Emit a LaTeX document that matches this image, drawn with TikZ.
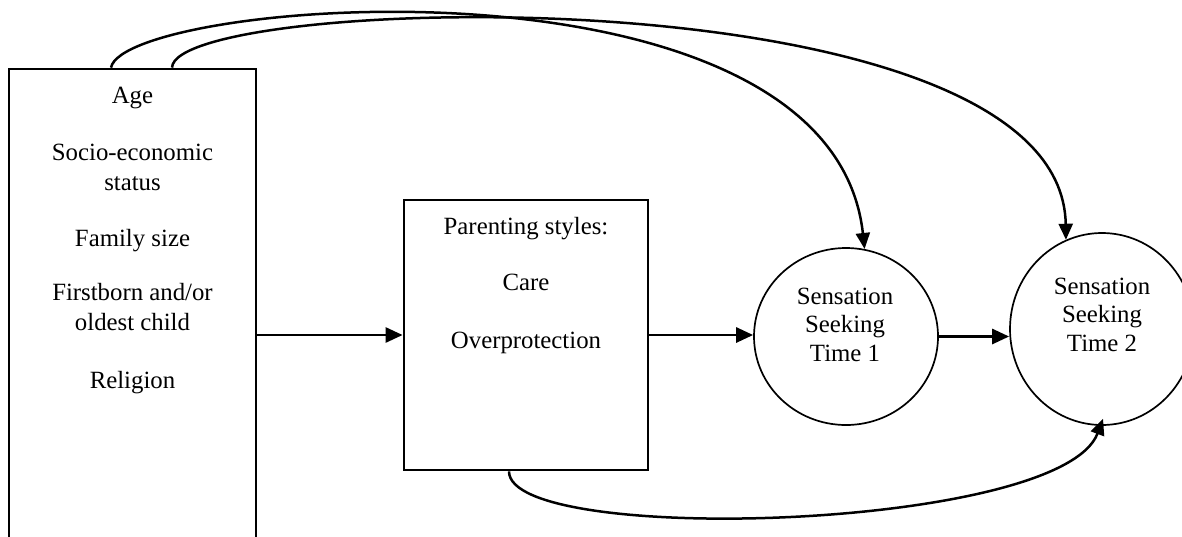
\documentclass[tikz,border=0pt]{standalone}
\usepackage{fontspec}
\setmainfont{Liberation Serif}
\usetikzlibrary{arrows.meta,shapes.geometric,calc}

\begin{document}
\begin{tikzpicture}[x=0.5pt,y=-0.5pt,
  txt/.style={font=\fontsize{12.4}{15}\selectfont, align=center, inner sep=0pt,
              text height=8.5pt, text depth=2.5pt},
  ctxt/.style={txt, font=\fontsize{12.4}{14.2}\selectfont},
  box/.style={draw, line width=1.4pt, inner sep=0pt},
  oval/.style={draw, ellipse, line width=0.85pt, inner sep=0pt},
  link/.style={line width=1.4pt, -{Triangle[length=8.5pt,width=7.5pt]}},
  curvelink/.style={line width=1.25pt, -{Triangle[length=8pt,width=7pt]}},
]
\clip (0,0) rectangle (1182,536);
\fill[white] (0,0) rectangle (1182,536);

% background variables (the box runs past the lower edge)
\node[box, minimum width=123.5pt, minimum height=275.5pt] (lbox) at (132.5,344.5) {};
% multi-line labels are positioned by their last line
\node[txt] (age) at (132.5,97) {Age};
\node[txt] (ses) at (132.5,184) {Socio-economic\\status};
\node[txt] (fam) at (132.5,240) {Family size};
\node[txt] (first) at (132.5,324) {Firstborn and/or\\oldest child};
\node[txt] (rel) at (132.5,382) {Religion};

% parenting styles
\node[box, minimum width=122pt, minimum height=135pt] (pbox) at (526,335) {};
\node[txt] (ps) at (526,228) {Parenting styles:};
\node[txt] (care) at (526,284) {Care};
\node[txt] (over) at (526,342) {Overprotection};

% sensation seeking at two time points
\node[oval, minimum width=92pt, minimum height=88.5pt] (t1) at (846,336.5) {};
\node[ctxt] (t1txt) at (845,355) {Sensation\\Seeking\\Time 1};
\node[oval, minimum width=92pt, minimum height=96pt] (t2) at (1102,329) {};
\node[ctxt] (t2txt) at (1102,345) {Sensation\\Seeking\\Time 2};

% direct paths
\draw[link] (lbox.east |- pbox.west) -- (pbox.west);
\draw[link] (pbox.east) -- (pbox.east -| t1.west);
\draw[link] (t1.east) -- (t1.east -| t2.west);

% curved paths
\draw[curvelink] ($(lbox.north)+(-21.5,0)$) .. controls +(14,-69) and +(-34,-308) .. (t1.78);
\draw[curvelink] ($(lbox.north)+(39.5,0)$) .. controls +(3,-74) and +(-4,-271) .. (t2.112);
\draw[curvelink] ($(pbox.south)+(-17,0)$) .. controls +(0,75) and +(-42,112) .. ($(t2.south)+(1,-7)$);
\end{tikzpicture}
\end{document}
